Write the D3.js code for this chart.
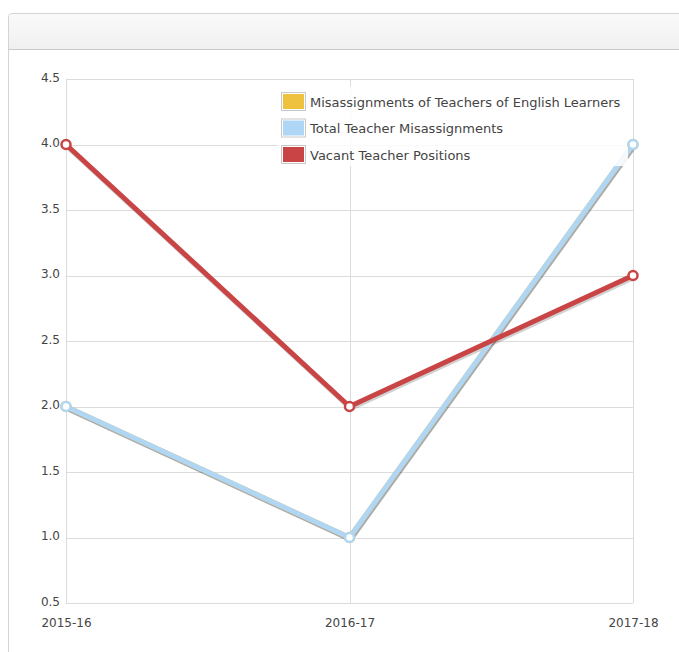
<!DOCTYPE html>
<html>
<head>
<meta charset="utf-8">
<script src="https://cdn.jsdelivr.net/npm/d3@7"></script>
<style>
  body { margin: 0; background: #fff; font-family: "DejaVu Sans", Verdana, sans-serif; }
  .panel { position: absolute; left: 8px; top: 13px; width: 700px; height: 660px;
    border: 1px solid #d4d4d4; border-radius: 4px 0 0 0; box-sizing: border-box; }
  .panel-head { height: 35px; border-bottom: 1px solid #c8c8c8;
    background: linear-gradient(#fafafa, #f0f0f0); border-radius: 4px 0 0 0; }
  svg { position: absolute; left: 0; top: 0; }
  .axis text { fill: #444; font-size: 12px; font-family: "DejaVu Sans", Verdana, sans-serif; }
</style>
</head>
<body>
<div class="panel"><div class="panel-head"></div></div>
<svg id="chart" width="679" height="652"></svg>
<script>
(function () {
  'use strict';

  var categories = ['2015-16', '2016-17', '2017-18'];
  var yTicks = [0.5, 1.0, 1.5, 2.0, 2.5, 3.0, 3.5, 4.0, 4.5];
  var seriesNames = [
    'Misassignments of Teachers of English Learners',
    'Total Teacher Misassignments',
    'Vacant Teacher Positions'
  ];
  var seriesColors = ['#eec13f', '#afd6f5', '#c94545'];
  var englishLearners = [2, 1, 4];
  var totalMisassignments = [2, 1, 4];
  var vacantPositions = [4, 2, 3];

  var series = [englishLearners, totalMisassignments, vacantPositions].map(function (values, i) {
    return { name: seriesNames[i], color: seriesColors[i], values: values };
  });

  var margin = { top: 79, right: 46, bottom: 49, left: 66 };
  var width = 679 - margin.left - margin.right;
  var height = 652 - margin.top - margin.bottom;

  var svg = d3.select('#chart');
  var g = svg.append('g')
    .attr('transform', 'translate(' + margin.left + ',' + margin.top + ')');

  var x = d3.scalePoint().domain(categories).range([0, width]);
  var y = d3.scaleLinear().domain([0.5, 4.5]).range([height, 0]);

  // grid
  g.append('g')
    .selectAll('line')
    .data(yTicks)
    .enter()
    .append('line')
    .attr('x1', 0).attr('x2', width)
    .attr('y1', function (d) { return Math.round(y(d)) + 0.5; })
    .attr('y2', function (d) { return Math.round(y(d)) + 0.5; })
    .style('stroke', '#dcdcdc');
  g.append('g')
    .selectAll('line')
    .data(categories)
    .enter()
    .append('line')
    .attr('x1', function (d) { return Math.round(x(d)) + 0.5; })
    .attr('x2', function (d) { return Math.round(x(d)) + 0.5; })
    .attr('y1', 0).attr('y2', height)
    .style('stroke', '#dcdcdc');

  // axes
  var yAxis = g.append('g')
    .attr('class', 'axis')
    .call(d3.axisLeft(y).tickValues(yTicks).tickFormat(d3.format('.1f')).tickSize(0).tickPadding(6));
  yAxis.select('.domain').remove();
  yAxis.selectAll('text').attr('dy', '0.2em');

  var xAxis = g.append('g')
    .attr('class', 'axis')
    .attr('transform', 'translate(0,' + height + ')')
    .call(d3.axisBottom(x).tickSize(0).tickPadding(15));
  xAxis.select('.domain').remove();

  var line = d3.line()
    .x(function (d, i) { return x(categories[i]); })
    .y(function (d) { return y(d); });

  // shadows
  g.selectAll('.shadow')
    .data(series)
    .enter()
    .append('path')
    .attr('class', 'shadow')
    .attr('transform', 'translate(1,2)')
    .attr('d', function (d) { return line(d.values); })
    .style('fill', 'none')
    .style('stroke', 'rgba(0,0,0,0.18)')
    .style('stroke-width', 5)
    .style('stroke-linejoin', 'round');

  g.selectAll('.series')
    .data(series)
    .enter()
    .append('path')
    .attr('class', 'series')
    .attr('d', function (d) { return line(d.values); })
    .style('fill', 'none')
    .style('stroke', function (d) { return d.color; })
    .style('stroke-width', 5)
    .style('stroke-linejoin', 'round');

  // legend
  var legend = g.append('g')
    .attr('transform', 'translate(' + (278 - margin.left) + ',' + (86 - margin.top) + ')');
  legend.append('rect')
    .attr('width', 350).attr('height', 80)
    .style('fill', 'rgba(255,255,255,0.85)');
  var items = legend.selectAll('.item')
    .data(series)
    .enter()
    .append('g')
    .attr('class', 'item')
    .attr('transform', function (d, i) { return 'translate(3,' + (6 + i * 26.5) + ')'; });
  items.append('rect')
    .attr('x', 0.5).attr('y', 0.5)
    .attr('width', 24).attr('height', 18)
    .style('fill', '#fff')
    .style('stroke', '#c8c8c8');
  items.append('rect')
    .attr('x', 2).attr('y', 2)
    .attr('width', 21).attr('height', 15)
    .style('fill', function (d) { return d.color; });
  items.append('text')
    .attr('x', 29).attr('y', 14.5)
    .style('font-size', '13px')
    .style('fill', '#444')
    .text(function (d) { return d.name; });

  // markers
  series.forEach(function (s) {
    g.append('g')
      .selectAll('circle')
      .data(s.values)
      .enter()
      .append('circle')
      .attr('cx', function (d, i) { return x(categories[i]); })
      .attr('cy', function (d) { return y(d); })
      .attr('r', 4.5)
      .style('fill', '#fff')
      .style('stroke', s.color)
      .style('stroke-width', 2.5);
  });
}());
</script>
</body>
</html>
